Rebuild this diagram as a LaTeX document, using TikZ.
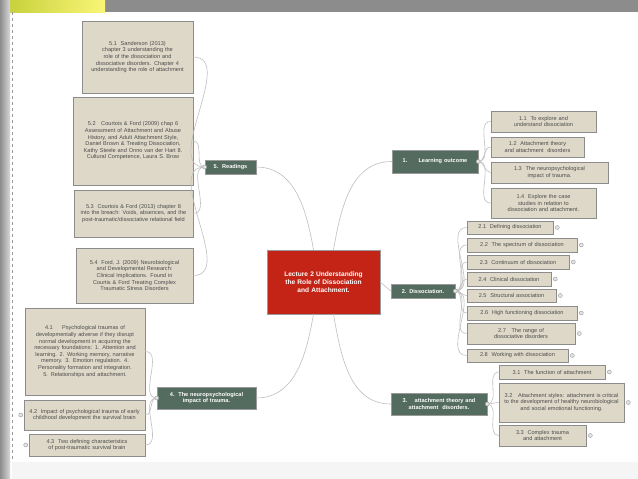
\documentclass[tikz,border=0pt]{standalone}
\usepackage{fontspec}
\setmainfont{Liberation Sans}
\begin{document}
\begin{tikzpicture}[x=1pt,y=-1pt,
 nohy/.style={execute at begin node={\hyphenpenalty=10000\exhyphenpenalty=10000\relax}},
 leaf/.style={nohy,draw=black!45,fill={rgb,255:red,221;green,216;blue,200},line width=0.6pt,font=\fontsize{5.6}{6.6}\selectfont,text=black!70,inner sep=1pt,align=center},
 br/.style={nohy,fill={rgb,255:red,84;green,107;blue,96},draw=black!40,text=white,font=\bfseries\fontsize{5.6}{6.6}\selectfont,inner sep=1pt,align=center},
 ln/.style={draw=black!25,line width=0.6pt},
 tog/.style={circle,draw=black!40,fill=black!10,inner sep=0pt,minimum size=4pt}]
\useasboundingbox (0,0) rectangle (638,479);
\fill[white] (0,0) rectangle (638,479);
\fill[black!45] (105,0) rectangle (638,12);
\shade[left color={rgb,255:red,200;green,210;blue,60},right color={rgb,255:red,250;green,245;blue,120}] (10,0) rectangle (105,12);
\shade[left color=black!45,right color=black!15] (0,0) rectangle (10,479);
\draw[black!40,dashed,line width=0.4pt] (12,12) -- (12,479);
\fill[black!4] (12,462) rectangle (638,479);
\newcommand\lf[6]{\pgfmathsetmacro\ww{#3-#2}\pgfmathsetmacro\tw{#3-#2-8}\pgfmathsetmacro\hh{#5-#4}%
 \node[leaf,minimum width=\ww pt,minimum height=\hh pt,text width=\tw pt] (#1) at ({(#2+#3)/2},{(#4+#5)/2}) {#6};}
\newcommand\bn[6]{\pgfmathsetmacro\ww{#3-#2}\pgfmathsetmacro\tw{#3-#2-6}\pgfmathsetmacro\hh{#5-#4}%
 \node[br,minimum width=\ww pt,minimum height=\hh pt,text width=\tw pt] (#1) at ({(#2+#3)/2},{(#4+#5)/2}) {#6};}
% center
\node[nohy,fill={rgb,255:red,196;green,36;blue,22},draw=black!40,text=white,font=\bfseries\fontsize{6.6}{7.8}\selectfont,minimum width=113pt,minimum height=64pt,text width=100pt,align=center,inner sep=4pt] (c) at (323.5,282) {Lecture 2 Understanding the Role of Dissociation and Attachment.\\[20pt]};
% readings
\lf{r1}{82}{193}{21}{93}{5.1\ \ Sanderson (2013) chapter 3 understanding the role of the dissociation and dissociative disorders. Chapter 4 understanding the role of attachment\\[10pt]}
\lf{r2}{73}{193}{97}{185}{5.2\ \ \ Courtois \& Ford (2009) chap 6 Assessment of Attachment and Abuse History, and Adult Attachment Style, Daniel Brown \& Treating Dissociation, Kathy Steele and Onno van der Hart 8. Cultural Competence, Laura S. Brow\\[8pt]}
\lf{r3}{74}{193}{190}{237}{5.3\ \ Courtois \& Ford (2013) chapter 8 into the breach: Voids, absences, and the post-traumatic/dissociative relational field}
\lf{r4}{76}{193}{248}{303}{5.4\ \ Ford, J. (2009) Neurobiological and Developmental Research: Clinical Implications. Found in Courtis \& Ford Treating Complex Traumatic Stress Disorders}
\bn{rd}{205}{256}{160}{174}{5.\ \ Readings}
% neuro
\lf{n1}{25}{145}{308}{395}{4.1\ \ \ \ \ Psychological traumas of developmentally adverse if they disrupt normal development in acquiring the necessary foundations: 1. Attention and learning. 2. Working memory, narrative memory. 3. Emotion regulation. 4. Personality formation and integration. 5. Relationships and attachment.}
\lf{n2}{24}{145}{400}{430}{4.2\ \ Impact of psychological trauma of early childhood development the survival brain}
\lf{n3}{29}{145}{434}{456}{4.3\ \ Two defining characteristics of post-traumatic survival brain}
\bn{nb}{157}{256}{387}{409}{4.\ \ The neuropsychological impact of trauma.}
% learning
\bn{lo}{392}{478}{150}{173}{1.\ \ \ \ \ \ Learning outcome\\[4pt]}
\lf{l1}{491}{596}{111}{132}{1.1\ \ To explore and understand dissociation}
\lf{l2}{491}{584}{137}{157}{1.2\ \ Attachment theory and attachment\ \ disorders}
\lf{l3}{491}{608}{162}{183}{1.3\ \ The neuropsychological impact of trauma.}
\lf{l4}{491}{596}{188}{218}{1.4\ \ Explore the case studies in relation to dissociation and attachment.}
% dissociation
\bn{ds}{391}{455}{284}{298}{2. Dissociation.}
\lf{d1}{467}{553}{221}{234}{2.1\ \ Defining dissociation}
\lf{d2}{467}{577}{238}{252}{2.2\ \ The spectrum of dissociation}
\lf{d3}{467}{569}{255}{269}{2.3\ \ Continuum of dissociation}
\lf{d4}{467}{551}{272}{286}{2.4\ \ Clinical dissociation}
\lf{d5}{467}{556}{289}{302}{2.5\ \ Structural association}
\lf{d6}{467}{577}{306}{320}{2.6\ \ High functioning dissociation}
\lf{d7}{467}{575}{323}{344}{2.7\ \ \ The range of dissociative disorders}
\lf{d8}{467}{568}{349}{362}{2.8\ \ Working with dissociation}
% attachment
\bn{at}{391}{487}{393}{415}{3.\ \ \ \ attachment theory and attachment\ \ disorders.}
\lf{a1}{499}{605}{365}{379}{3.1\ \ The function of attachment}
\lf{a2}{499}{624}{383}{422}{3.2\ \ \ Attachment styles: attachment is critical to the development of healthy neurobiological and social emotional functioning.}
\lf{a3}{499}{586}{425}{446}{3.3\ \ Complex trauma and attachment}
% connectors
\foreach \k in {r1,r2,r3,r4} \draw[ln] (rd.west) to[out=180,in=0] (\k.east);
\foreach \k in {n1,n2,n3} \draw[ln] (nb.west) to[out=180,in=0] (\k.east);
\foreach \k in {l1,l2,l3,l4} \draw[ln] (lo.east) to[out=0,in=180] (\k.west);
\foreach \k in {d1,d2,d3,d4,d5,d6,d7,d8} \draw[ln] (ds.east) to[out=0,in=180] (\k.west);
\foreach \k in {a1,a2,a3} \draw[ln] (at.east) to[out=0,in=180] (\k.west);
\draw[ln] (c.north) ++(-10,0) to[out=100,in=0] (rd.east);
\draw[ln] (c.north) ++(10,0) to[out=80,in=180] (lo.west);
\draw[ln] (c.east) -- (ds.west);
\draw[ln] (c.south) ++(10,0) to[out=-80,in=180] (at.west);
\draw[ln] (c.south) ++(-10,0) to[out=-100,in=0] (nb.east);
\foreach \k in {rd,nb} \node[tog] at (\k.west) {};
\foreach \k in {lo,ds,at} \node[tog] at (\k.east) {};
\foreach \k in {d1,d2,d3,d4,d5,d6,d7,d8,a1,a2,a3} \node[tog,xshift=4pt] at (\k.east) {};
\node[tog,xshift=-3pt] at (n2.west) {};
\node[tog,xshift=-3pt] at (n3.west) {};
\end{tikzpicture}
\end{document}
